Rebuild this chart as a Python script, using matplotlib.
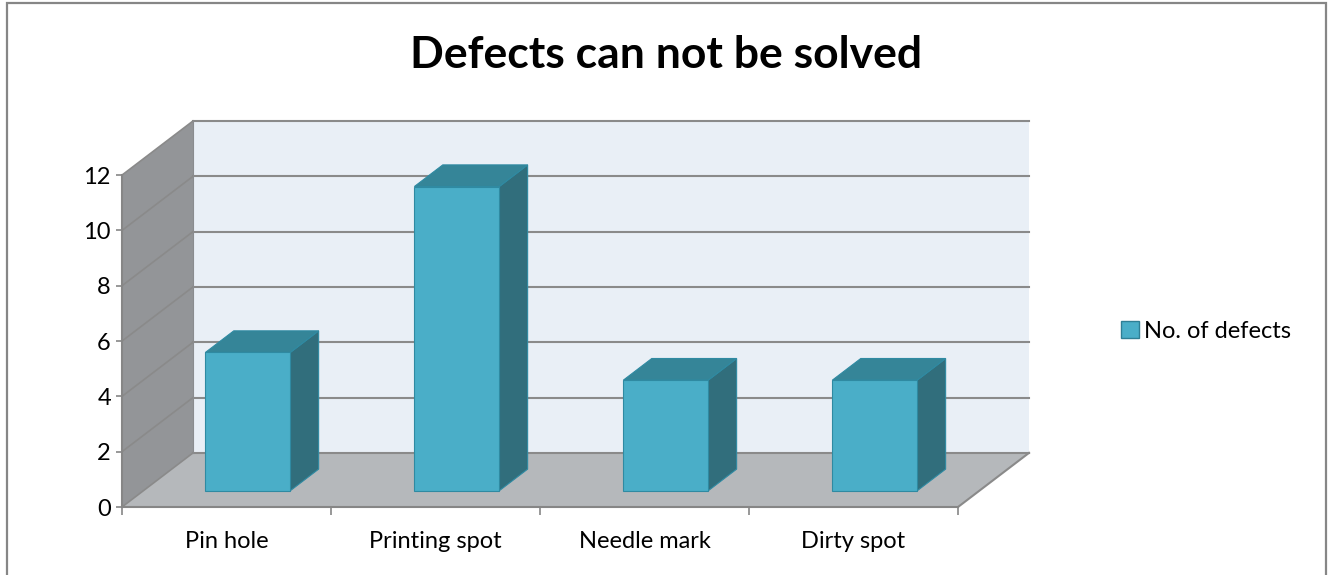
import matplotlib.pyplot as plt
from matplotlib.patches import Polygon, Rectangle, Patch

categories = ['Pin hole', 'Printing spot', 'Needle mark', 'Dirty spot']
defects = [5, 11, 4, 4]
series_name = 'No. of defects'
y_ticks = [0, 2, 4, 6, 8, 10, 12]

plt.rcParams['font.family'] = ['Lato', 'DejaVu Sans']

# oblique 3d look: depth offset in data units
dx = 71 / 209
dy = 54 / 27.6
ymax = 12
n = len(categories)

fig = plt.figure(figsize=(13.3, 5.75), dpi=100)
ax = fig.add_axes([122 / 1330, 1 - 507 / 575, 907 / 1330, 386 / 575])
ax.set_xlim(0, n + dx)
ax.set_ylim(0, ymax + dy)

wall_side = '#939598'
wall_back = '#e9eff6'
floor_col = '#b5b8bb'
grid_col = '#8a8a8a'

# walls and floor
ax.add_patch(Polygon([(0, 0), (dx, dy), (dx, ymax + dy), (0, ymax)], closed=True,
                     facecolor=wall_side, edgecolor='none', zorder=1))
ax.add_patch(Polygon([(dx, dy), (n + dx, dy), (n + dx, ymax + dy), (dx, ymax + dy)], closed=True,
                     facecolor=wall_back, edgecolor='none', zorder=1))
ax.add_patch(Polygon([(0, 0), (n, 0), (n + dx, dy), (dx, dy)], closed=True,
                     facecolor=floor_col, edgecolor='none', zorder=1))

# gridlines on back wall + side wall diagonals
for v in y_ticks:
    ax.plot([dx, n + dx], [v + dy, v + dy], color=grid_col, lw=1.5, zorder=2, clip_on=False)
    ax.plot([0, dx], [v, v + dy], color=grid_col, lw=1.2, zorder=2, clip_on=False)
ax.plot([dx, dx], [dy, ymax + dy], color='#8a8c8f', lw=0.8, zorder=2)
ax.plot([n, n + dx], [0, dy], color=grid_col, lw=1.5, zorder=2, clip_on=False)

# bars
d0, d1 = 0.3, 0.7
w = 0.406
front_c = '#4aaec8'
top_c = '#358598'
side_c = '#316e7c'
edge_c = '#2f8aa2'
for i, v in enumerate(defects):
    x0 = i + (1 - w) / 2 + d0 * dx
    x1 = x0 + w
    yb = d0 * dy
    yt = v + d0 * dy
    ox = (d1 - d0) * dx
    oy = (d1 - d0) * dy
    ax.add_patch(Polygon([(x1, yb), (x1 + ox, yb + oy), (x1 + ox, yt + oy), (x1, yt)], closed=True,
                         facecolor=side_c, edgecolor=edge_c, lw=0.8, zorder=3))
    ax.add_patch(Polygon([(x0, yt), (x1, yt), (x1 + ox, yt + oy), (x0 + ox, yt + oy)], closed=True,
                         facecolor=top_c, edgecolor=edge_c, lw=0.8, zorder=3))
    ax.add_patch(Rectangle((x0, yb), w, v, facecolor=front_c, edgecolor=edge_c, lw=0.8, zorder=4))

# axes
for s in ['top', 'right']:
    ax.spines[s].set_visible(False)
ax.spines['left'].set_bounds(0, ymax)
ax.spines['bottom'].set_bounds(0, n)
for s in ['left', 'bottom']:
    ax.spines[s].set_color('#868686')
    ax.spines[s].set_linewidth(1.5)
    ax.spines[s].set_zorder(5)
ax.set_yticks(y_ticks)
ax.set_yticklabels([str(t) for t in y_ticks], fontsize=17)
ax.tick_params(axis='y', length=4.5, width=1.2, color='#868686', pad=3.5)
ax.set_xticks(range(n + 1))
ax.set_xticklabels([''] * (n + 1))
ax.set_xticks([i + 0.5 for i in range(n)], minor=True)
ax.set_xticklabels(categories, minor=True, fontsize=17)
ax.tick_params(axis='x', which='major', length=6, width=1.2, color='#868686')
ax.tick_params(axis='x', which='minor', length=0, pad=17)
ax.patch.set_visible(False)

fig.text(666 / 1330, 1 - 55 / 575, 'Defects can not be solved', ha='center', va='center',
         fontsize=32, fontweight='bold')

fig.legend(handles=[Patch(facecolor=front_c, edgecolor='#2f7f95', label=series_name)],
           loc='center left', bbox_to_anchor=(1100 / 1330, 1 - 331 / 575), frameon=False,
           fontsize=17, handlelength=0.75, handleheight=0.75, handletextpad=0.2)

fig.patches.append(Rectangle((7 / 1330, -0.05), 1319 / 1330, 1.05 - 3 / 575, transform=fig.transFigure,
                             fill=False, edgecolor='#868686', lw=1.6))

fig.savefig('out.png', dpi=100, facecolor='white')
